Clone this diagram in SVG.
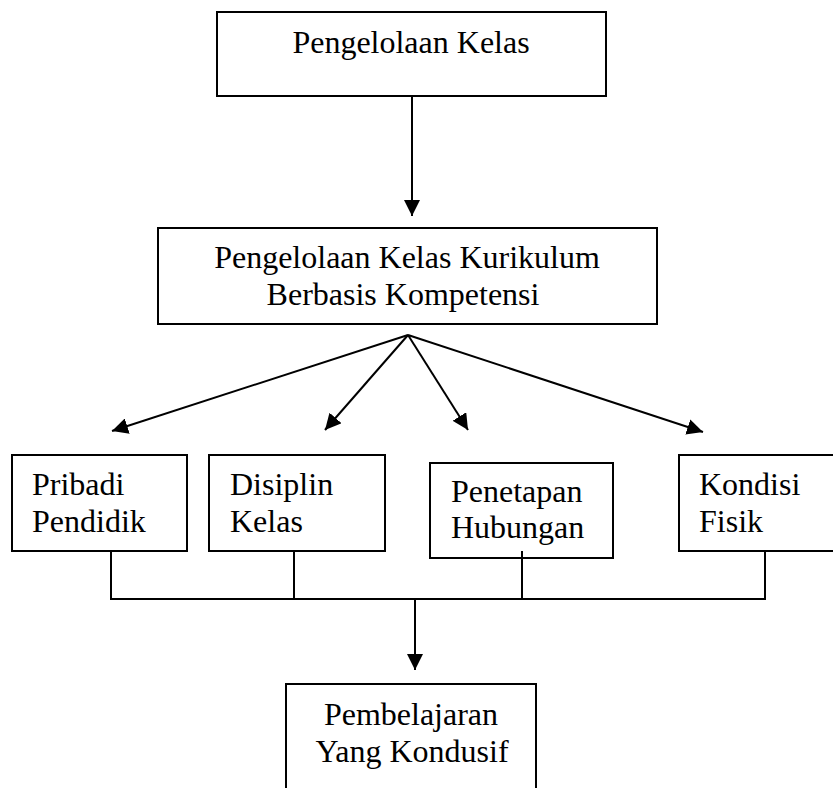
<svg xmlns="http://www.w3.org/2000/svg" width="833" height="788" viewBox="0 0 833 788">
<style>
.box{fill:#fff;stroke:#000;stroke-width:2}
.t{font-family:"Liberation Serif","Times New Roman",serif;font-size:32px;fill:#000}
.m{text-anchor:middle}
.c{fill:none;stroke:#000;stroke-width:2}
</style>
<defs>
<marker id="ah" markerUnits="userSpaceOnUse" markerWidth="17" markerHeight="16" refX="16" refY="8" orient="auto">
<path d="M0,0 L16,8 L0,16 z" fill="#000"/>
</marker>
</defs>
<rect width="833" height="788" fill="#fff"/>
<g id="connectors">
<line class="c" x1="412" y1="96" x2="412" y2="216" marker-end="url(#ah)"/>
<line class="c" x1="408" y1="335" x2="112" y2="431" marker-end="url(#ah)"/>
<line class="c" x1="408" y1="335" x2="325" y2="430" marker-end="url(#ah)"/>
<line class="c" x1="408" y1="335" x2="468" y2="430" marker-end="url(#ah)"/>
<line class="c" x1="408" y1="335" x2="703" y2="432" marker-end="url(#ah)"/>
<path class="c" d="M111,551 V599 M294,551 V599 M522,551 V599 M765,551 V599 M110,599 H766"/>
<line class="c" x1="415" y1="599" x2="415" y2="670" marker-end="url(#ah)"/>
</g>
<g id="n1">
<rect class="box" x="217" y="12" width="389" height="84"/>
<text class="t m" x="411" y="53">Pengelolaan Kelas</text>
</g>
<g id="n2">
<rect class="box" x="158" y="228" width="499" height="96"/>
<text class="t m" x="407" y="268">Pengelolaan Kelas Kurikulum</text>
<text class="t m" x="403" y="305">Berbasis Kompetensi</text>
</g>
<g id="n3">
<rect class="box" x="12" y="455" width="175" height="96"/>
<text class="t" x="32" y="495">Pribadi</text>
<text class="t" x="32" y="532">Pendidik</text>
</g>
<g id="n4">
<rect class="box" x="209" y="455" width="176" height="96"/>
<text class="t" x="230" y="495">Disiplin</text>
<text class="t" x="230" y="532">Kelas</text>
</g>
<g id="n5">
<rect class="box" x="430" y="463" width="183" height="95"/>
<text class="t" x="451" y="502">Penetapan</text>
<text class="t" x="451" y="538">Hubungan</text>
</g>
<g id="n6">
<rect class="box" x="679" y="455" width="170" height="96"/>
<text class="t" x="699" y="495">Kondisi</text>
<text class="t" x="699" y="532">Fisik</text>
</g>
<g id="n7">
<rect class="box" x="286" y="684" width="250" height="120"/>
<text class="t m" x="411" y="725">Pembelajaran</text>
<text class="t m" x="412" y="762">Yang Kondusif</text>
</g>
<line class="c" x1="522" y1="551" x2="522" y2="558"/>
</svg>
